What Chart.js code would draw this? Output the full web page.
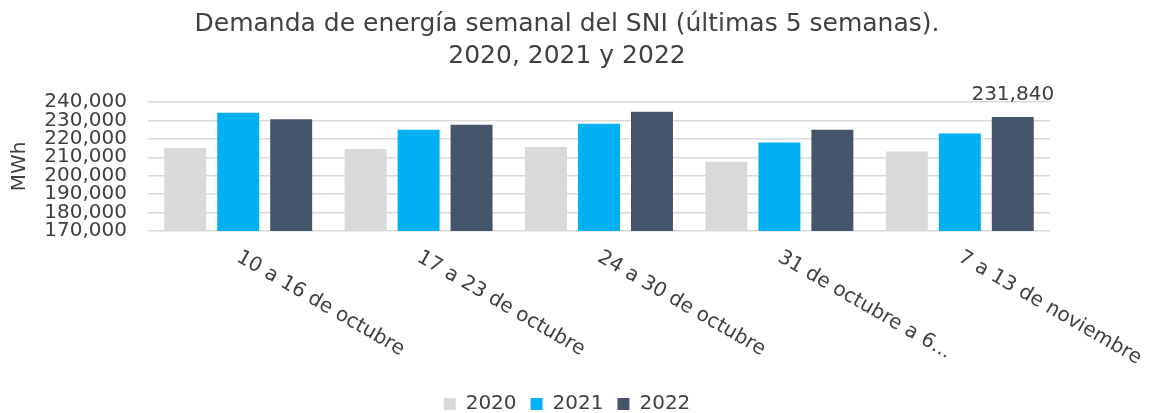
<!DOCTYPE html>
<html><head><meta charset="utf-8">
<script src="https://cdn.jsdelivr.net/npm/chart.js@4"></script>
<style>html,body{margin:0;padding:0;background:#fff}</style>
</head><body>
<canvas id="c" width="1150" height="413"></canvas>
<script>
const categories = ['10 a 16 de octubre', '17 a 23 de octubre', '24 a 30 de octubre', '31 de octubre a 6...', '7 a 13 de noviembre'];
const seriesNames = ['2020', '2021', '2022'];
const values2020 = [215100, 214500, 215600, 207600, 213100];
const values2021 = [234100, 224900, 228200, 218000, 222900];
const values2022 = [230700, 227600, 234700, 224900, 231840];
const yTickValues = [170000, 180000, 190000, 200000, 210000, 220000, 230000, 240000];
const titleLines = ['Demanda de energía semanal del SNI (últimas 5 semanas).', '2020, 2021 y 2022'];
const yAxisTitle = 'MWh';
const seriesColors = ['#D9D9D9', '#00B0F0', '#44546A'];

const FONT = '"DejaVu Sans", sans-serif';
const TXT = '#404040';

const labelsPlugin = {
  id: 'rotLabels',
  afterDraw(chart) {
    const {ctx, chartArea} = chart;
    const x = chart.scales.x;
    ctx.save();
    ctx.font = '20px ' + FONT;
    ctx.fillStyle = TXT;
    ctx.textAlign = 'left';
    ctx.textBaseline = 'middle';
    categories.forEach((c, i) => {
      const px = x.getPixelForValue(i);
      ctx.save();
      ctx.translate(px, chartArea.bottom + 25);
      ctx.rotate(Math.PI / 6);
      ctx.fillText(c, 0, 0);
      ctx.restore();
    });
    const meta = chart.getDatasetMeta(2);
    const bar = meta.data[values2022.length - 1];
    ctx.textAlign = 'center';
    ctx.textBaseline = 'alphabetic';
    ctx.fillText(values2022[values2022.length - 1].toLocaleString('en-US'), bar.x, bar.y - 17);
    ctx.restore();
  }
};

new Chart(document.getElementById('c'), {
  type: 'bar',
  data: {
    labels: categories,
    datasets: [
      {label: seriesNames[0], data: values2020, backgroundColor: seriesColors[0], borderWidth: 0},
      {label: seriesNames[1], data: values2021, backgroundColor: seriesColors[1], borderWidth: 0},
      {label: seriesNames[2], data: values2022, backgroundColor: seriesColors[2], borderWidth: 0}
    ]
  },
  options: {
    responsive: false,
    animation: false,
    devicePixelRatio: 1,
    datasets: {bar: {barPercentage: 0.792, categoryPercentage: 0.881}},
    layout: {padding: {left: 0, right: 16, top: 0, bottom: -11}},
    plugins: {
      title: {
        display: true,
        text: titleLines,
        color: TXT,
        font: {family: FONT, size: 25, weight: 'normal', lineHeight: 1.3},
        padding: {top: 8, bottom: 29}
      },
      legend: {
        position: 'bottom',
        labels: {boxWidth: 12, boxHeight: 12, padding: 14, color: TXT, font: {family: FONT, size: 20}}
      },
      tooltip: {enabled: false}
    },
    scales: {
      x: {
        ticks: {display: false},
        grid: {display: false},
        border: {display: false},
        afterFit(scale) { scale.height = 149; }
      },
      y: {
        min: yTickValues[0],
        max: yTickValues[yTickValues.length - 1],
        afterBuildTicks(scale) { scale.ticks = yTickValues.map(v => ({value: v})); },
        ticks: {
          autoSkip: false,
          padding: 21,
          color: TXT,
          font: {family: FONT, size: 20},
          callback: v => Number(v).toLocaleString('en-US')
        },
        grid: {color: '#D9D9D9', lineWidth: 1.5, drawTicks: false},
        border: {display: false},
        title: {display: true, text: yAxisTitle, color: TXT, font: {family: FONT, size: 20}, padding: {top: 8, bottom: 0}},
        afterFit(scale) { scale.width = 148; }
      },
      yRight: {
        position: 'right',
        display: true,
        ticks: {display: false},
        grid: {display: false},
        border: {display: false},
        afterFit(scale) { scale.width = 84; }
      }
    }
  },
  plugins: [labelsPlugin]
});
</script>
</body></html>
